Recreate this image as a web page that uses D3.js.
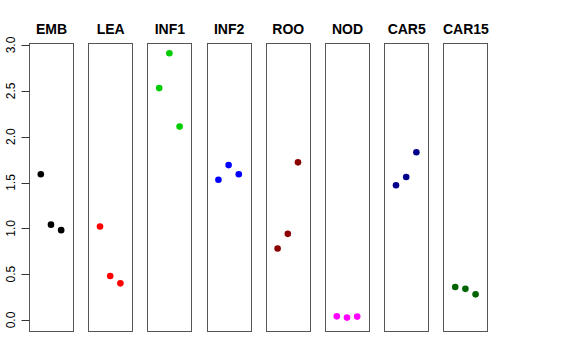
<!DOCTYPE html>
<html><head><meta charset="utf-8">
<script src="https://cdn.jsdelivr.net/npm/d3@7"></script>
<style>body{margin:0;background:#fff}svg{display:block}</style>
</head><body>
<script>
const categories = ["EMB","LEA","INF1","INF2","ROO","NOD","CAR5","CAR15"];
const colors = ["#000000","#FF0000","#00CD00","#0000FF","#8B0000","#FF00FF","#00008B","#006400"];
const replicates = [1,2,3];
const valuesEMB = [1.59, 1.04, 0.98];
const valuesLEA = [1.02, 0.48, 0.40];
const valuesINF1 = [2.53, 2.91, 2.11];
const valuesINF2 = [1.53, 1.69, 1.59];
const valuesROO = [0.78, 0.94, 1.72];
const valuesNOD = [0.04, 0.026, 0.037];
const valuesCAR5 = [1.47, 1.56, 1.83];
const valuesCAR15 = [0.36, 0.34, 0.28];
const yTicks = [0, 0.5, 1.0, 1.5, 2.0, 2.5, 3.0];

(function(){
const series = [valuesEMB, valuesLEA, valuesINF1, valuesINF2, valuesROO, valuesNOD, valuesCAR5, valuesCAR15];

const W = 576, H = 360;
const pTop = 43, pBottom = 331;
const svg = d3.select("body").append("svg").attr("width", W).attr("height", H);

const step = 59.2, bw = 44, left0 = 29;
const xBand = d3.scaleBand().domain(categories)
  .range([left0, left0 + categories.length*step - (step - bw)])
  .paddingInner((step - bw)/step).paddingOuter(0);

const y = d3.scaleLinear().domain([-0.12, 3.022]).range([pBottom, pTop]);

categories.forEach((c, i) => {
  const x0 = xBand(c);
  const x = d3.scaleLinear().domain([-0.16, 4.16]).range([x0, x0 + xBand.bandwidth()]);
  const g = svg.append("g");
  g.append("rect").attr("x", Math.round(x0) + 0.5).attr("y", pTop + 0.5)
    .attr("width", Math.round(xBand.bandwidth())).attr("height", pBottom - pTop)
    .attr("fill", "none").attr("stroke", "#555").attr("stroke-width", 1);
  g.append("text").attr("x", x0 + xBand.bandwidth()/2 + 0.5).attr("y", 34)
    .attr("text-anchor", "middle").attr("font-family", "Liberation Sans, Arial, sans-serif")
    .attr("font-weight", "bold").attr("font-size", 14).text(c);
  g.selectAll("circle").data(series[i]).join("circle")
    .attr("cx", (d, j) => x(replicates[j]))
    .attr("cy", d => y(d))
    .attr("r", 3.3)
    .attr("fill", colors[i]);
});

const ax = svg.append("g");
ax.selectAll("line").data(yTicks).join("line")
  .attr("x1", 21.5).attr("x2", 29.5)
  .attr("y1", d => Math.round(y(d)) + 0.5).attr("y2", d => Math.round(y(d)) + 0.5)
  .attr("stroke", "#333").attr("stroke-width", 1);
ax.selectAll("text").data(yTicks).join("text")
  .attr("transform", d => `translate(14.5,${y(d)}) rotate(-90)`)
  .attr("text-anchor", "middle")
  .attr("font-family", "Liberation Sans, Arial, sans-serif")
  .attr("font-size", 12)
  .text(d => d3.format(".1f")(d));
})();
</script>
</body></html>
